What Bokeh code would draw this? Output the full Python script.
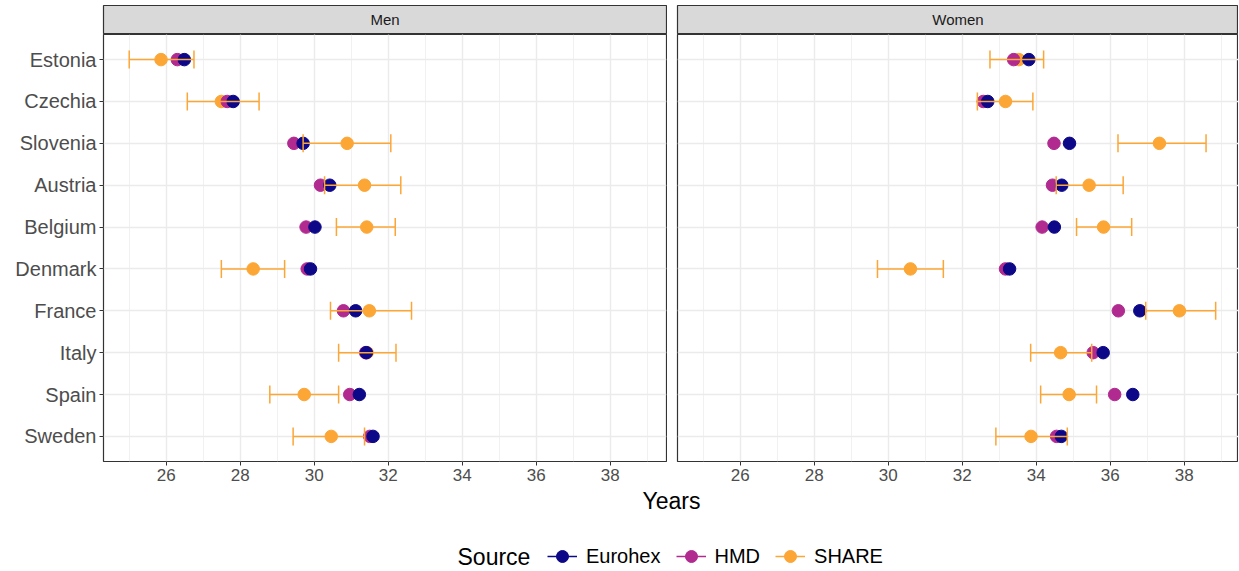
from bokeh.plotting import figure
from bokeh.models import (Range1d, FactorRange, SingleIntervalTicker, CategoricalTicker, Grid,
                          ColumnDataSource, Legend, LegendItem)
from bokeh.layouts import column, row
from bokeh.transform import dodge
from bokeh.core.properties import value
from bokeh.embed import file_html
from bokeh.resources import INLINE

# ---------------- data ----------------
countries = ["Estonia", "Czechia", "Slovenia", "Austria", "Belgium",
             "Denmark", "France", "Italy", "Spain", "Sweden"]
panels = ["Men", "Women"]
sources = ["Eurohex", "HMD", "SHARE"]

eurohex_men = [26.49, 27.81, 29.70, 30.42, 30.02, 29.90, 31.12, 31.41, 31.22, 31.59]
hmd_men = [26.30, 27.65, 29.45, 30.17, 29.78, 29.81, 30.79, 31.39, 30.96, 31.50]
share_men = [25.86, 27.49, 30.89, 31.36, 31.42, 28.35, 31.49, 31.43, 29.73, 30.46]
share_men_lo = [25.00, 26.57, 29.70, 30.28, 30.60, 27.49, 30.44, 30.66, 28.80, 29.43]
share_men_hi = [26.75, 28.51, 32.07, 32.34, 32.19, 29.20, 32.63, 32.21, 30.66, 31.36]

eurohex_women = [33.80, 32.69, 34.90, 34.69, 34.49, 33.28, 36.80, 35.81, 36.61, 34.68]
hmd_women = [33.39, 32.57, 34.48, 34.44, 34.16, 33.17, 36.22, 35.54, 36.12, 34.55]
share_women = [33.53, 33.17, 37.33, 35.43, 35.82, 30.60, 37.87, 34.66, 34.89, 33.86]
share_women_lo = [32.75, 32.41, 36.21, 34.54, 35.09, 29.71, 36.96, 33.85, 34.12, 32.91]
share_women_hi = [34.20, 33.91, 38.59, 36.35, 36.58, 31.49, 38.85, 35.50, 35.63, 34.84]

x_title = "Years"
legend_title = "Source"

# ---------------- style ----------------
FONT = "Liberation Sans"
COLORS = {"Eurohex": "#0D0887", "HMD": "#B12A90", "SHARE": "#FCA636"}
X_START = 24.305
PX_PER_YEAR = 37.0
LEFT_W = 563
RIGHT_W = 561
FRAME_H = 427
STRIP_H = 28
GRID_C = "#EBEBEB"
BORDER_C = "#333333"


def make_panel(eurohex, hmd, share, lo, hi, frame_w, show_y, bl, br):
    p = figure(frame_width=frame_w, frame_height=FRAME_H,
               x_range=Range1d(X_START, X_START + frame_w / PX_PER_YEAR),
               y_range=FactorRange(factors=list(reversed(countries)),
                                   range_padding=0.1, range_padding_units="absolute"),
               y_axis_location="left" if show_y else None,
               output_backend="svg", toolbar_location=None,
               min_border_left=bl, min_border_right=br,
               min_border_top=0, min_border_bottom=28,
               background_fill_color="white", border_fill_color="white")
    p.center = [r for r in p.center if not isinstance(r, Grid)]
    xt = SingleIntervalTicker(interval=2, num_minor_ticks=2)
    p.xaxis.ticker = xt
    p.add_layout(Grid(dimension=0, ticker=xt, grid_line_color=GRID_C, grid_line_width=1.4,
                      minor_grid_line_color=GRID_C, minor_grid_line_width=0.7), "center")
    p.add_layout(Grid(dimension=1, ticker=CategoricalTicker(), grid_line_color=GRID_C,
                      grid_line_width=1.4), "center")

    p.xaxis.axis_line_color = None
    p.xaxis.major_tick_line_color = BORDER_C
    p.xaxis.major_tick_out = 4
    p.xaxis.major_tick_in = 0
    p.xaxis.minor_tick_line_color = None
    p.xaxis.major_label_standoff = 3
    p.xaxis.major_label_text_font = FONT
    p.xaxis.major_label_text_font_size = "17px"
    p.xaxis.major_label_text_color = "#4D4D4D"
    if show_y:
        p.yaxis.axis_line_color = None
        p.yaxis.major_tick_line_color = BORDER_C
        p.yaxis.major_tick_out = 4
        p.yaxis.major_tick_in = 0
        p.yaxis.major_label_standoff = 3
        p.yaxis.major_label_text_font = FONT
        p.yaxis.major_label_text_font_size = "20px"
        p.yaxis.major_label_text_color = "#4D4D4D"

    p.outline_line_color = BORDER_C
    p.outline_line_width = 1.2

    src = ColumnDataSource(dict(country=countries, eurohex=eurohex, hmd=hmd,
                                share=share, lo=lo, hi=hi))
    p.scatter(x="share", y="country", source=src, size=12.5, color=COLORS["SHARE"])
    p.scatter(x="hmd", y="country", source=src, size=12.5, color=COLORS["HMD"])
    p.scatter(x="eurohex", y="country", source=src, size=12.5, color=COLORS["Eurohex"])
    p.segment(x0="lo", x1="hi", y0="country", y1="country", source=src,
              line_color=COLORS["SHARE"], line_width=1.5)
    for col in ("lo", "hi"):
        p.segment(x0=col, x1=col,
                  y0=dodge("country", -0.215, range=p.y_range),
                  y1=dodge("country", 0.215, range=p.y_range),
                  source=src, line_color=COLORS["SHARE"], line_width=1.5)
    return p


def make_strip(label, frame_w, bl, br):
    s = figure(frame_width=frame_w, frame_height=STRIP_H,
               x_range=Range1d(0, 1), y_range=Range1d(0, 1),
               x_axis_location=None, y_axis_location=None,
               output_backend="svg", toolbar_location=None,
               min_border_left=bl, min_border_right=br,
               min_border_top=5, min_border_bottom=1,
               background_fill_color="#D9D9D9", border_fill_color="white")
    s.center = [r for r in s.center if not isinstance(r, Grid)]
    s.outline_line_color = BORDER_C
    s.outline_line_width = 1.2
    s.text(x=[0.5], y=[0.5], text=[label], text_align="center", text_baseline="middle",
           text_font=value(FONT), text_font_size="15px", text_color="#1A1A1A")
    return s


strip_men = make_strip(panels[0], LEFT_W, 103, 1)
strip_women = make_strip(panels[1], RIGHT_W, 10, 0)
p_men = make_panel(eurohex_men, hmd_men, share_men, share_men_lo, share_men_hi,
                   LEFT_W, True, 103, 1)
p_women = make_panel(eurohex_women, hmd_women, share_women, share_women_lo, share_women_hi,
                     RIGHT_W, False, 10, 0)

# ---------------- footer: axis title + legend ----------------
FOOT_W = 1238
FOOT_H = 80
footer = figure(frame_width=FOOT_W, frame_height=FOOT_H,
                x_range=Range1d(0, FOOT_W), y_range=Range1d(0, FOOT_H),
                x_axis_location=None, y_axis_location=None,
                output_backend="svg", toolbar_location=None,
                min_border_left=0, min_border_right=0, min_border_top=0, min_border_bottom=0,
                outline_line_color=None, border_fill_color="white")
footer.center = [r for r in footer.center if not isinstance(r, Grid)]
footer.text(x=[671], y=[69], text=[x_title], text_align="center", text_baseline="middle",
            text_font=value(FONT), text_font_size="23px", text_color="#000000")
footer.text(x=[457], y=[13], text=[legend_title], text_align="left", text_baseline="middle",
            text_font=value(FONT), text_font_size="23px", text_color="#000000")

items = []
for name in sources:
    lr = footer.line(x=[-100, -90], y=[-100, -100], line_color=COLORS[name], line_width=1.5)
    sr = footer.scatter(x=[-100], y=[-100], size=12, color=COLORS[name])
    items.append(LegendItem(label=value(name), renderers=[lr, sr]))
legend = Legend(items=items, orientation="horizontal", location=(547, -3),
                glyph_width=30, glyph_height=32, label_standoff=9, spacing=15,
                padding=0, margin=0, border_line_color=None, background_fill_alpha=0,
                label_text_font=FONT, label_text_font_size="20px", label_text_color="#000000")
footer.add_layout(legend, "center")

layout = column(row(strip_men, strip_women), row(p_men, p_women), footer)

open("out.html", "w").write(file_html(layout, INLINE))
